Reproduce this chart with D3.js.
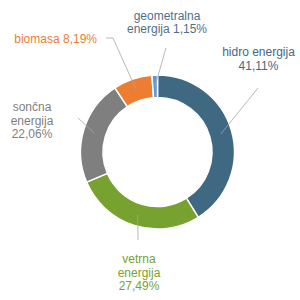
<!DOCTYPE html>
<html>
<head>
<meta charset="utf-8">
<script src="https://cdn.jsdelivr.net/npm/d3@7"></script>
<style>
  body { margin: 0; background: #fff; }
  text { font-family: "Liberation Sans", Arial, sans-serif; font-size: 12px; }
</style>
</head>
<body>
<svg width="300" height="300"></svg>
<script>
// data
var names = [["hidro", "energija"], ["vetrna", "energija"], ["sončna", "energija"], ["biomasa"], ["geometralna", "energija"]];
var values = [41.11, 27.49, 22.06, 8.19, 1.15];
var colors = ["#3f6882", "#77a22f", "#7f7f80", "#ed7d31", "#5b9bd5"];
var textColors = ["#44697f", "#77a22f", "#7f7f7f", "#ed7d31", "#50708a"];

// label layout: elbow of leader line, text position, how words wrap
var labelPos = [
  {lx: 258, ly: 88, tx: 258.5, ty: 56, anchor: "middle", wrap: [2, 1]},
  {lx: 138, ly: 240, tx: 139, ty: 263, anchor: "middle", wrap: [1, 1, 1]},
  {lx: 78, ly: 118, tx: 32, ty: 111, anchor: "middle", wrap: [1, 1, 1]},
  {lx: 113, ly: 38, ex: 106, tx: 97, ty: 43, anchor: "end", wrap: [2]},
  {lx: 166, ly: 48, tx: 167, ty: 19.5, anchor: "middle", wrap: [1, 2]}
];

var svg = d3.select("svg");
var cx = 157.5, cy = 152, rOuter = 77, rInner = 54.5;

var pie = d3.pie().sort(null).value(function(d) { return d; });
var arc = d3.arc().innerRadius(rInner).outerRadius(rOuter);
var mid = d3.arc().innerRadius(66).outerRadius(66);

var g = svg.append("g").attr("transform", "translate(" + cx + "," + cy + ")");
var arcs = pie(values);

g.selectAll(".slice").data(arcs).enter()
  .append("path")
    .attr("class", "slice")
    .attr("d", arc)
    .attr("fill", function(d, i) { return colors[i]; })
    .attr("stroke", "#fff")
    .attr("stroke-width", 1.5);

function fmt(v) { return v.toFixed(2).replace(".", ",") + "%"; }

arcs.forEach(function(d, i) {
  var p = labelPos[i];
  var c = mid.centroid(d);
  var pts = [[c[0] + cx, c[1] + cy], [p.lx, p.ly]];
  if (p.ex !== undefined) pts.push([p.ex, p.ly]);

  // leader line
  svg.append("path")
    .attr("d", d3.line()(pts))
    .attr("fill", "none")
    .attr("stroke", "#a6a6a6")
    .attr("stroke-width", 0.8);

  // words + value, split in lines
  var words = names[i].concat([fmt(values[i])]);
  var lines = [], k = 0;
  p.wrap.forEach(function(n) {
    lines.push(words.slice(k, k + n).join(" "));
    k += n;
  });

  var t = svg.append("text")
    .attr("text-anchor", p.anchor)
    .attr("fill", textColors[i]);
  lines.forEach(function(s, j) {
    t.append("tspan")
      .attr("x", p.tx)
      .attr("y", p.ty + j * 13.5)
      .text(s);
  });
});
</script>
</body>
</html>
